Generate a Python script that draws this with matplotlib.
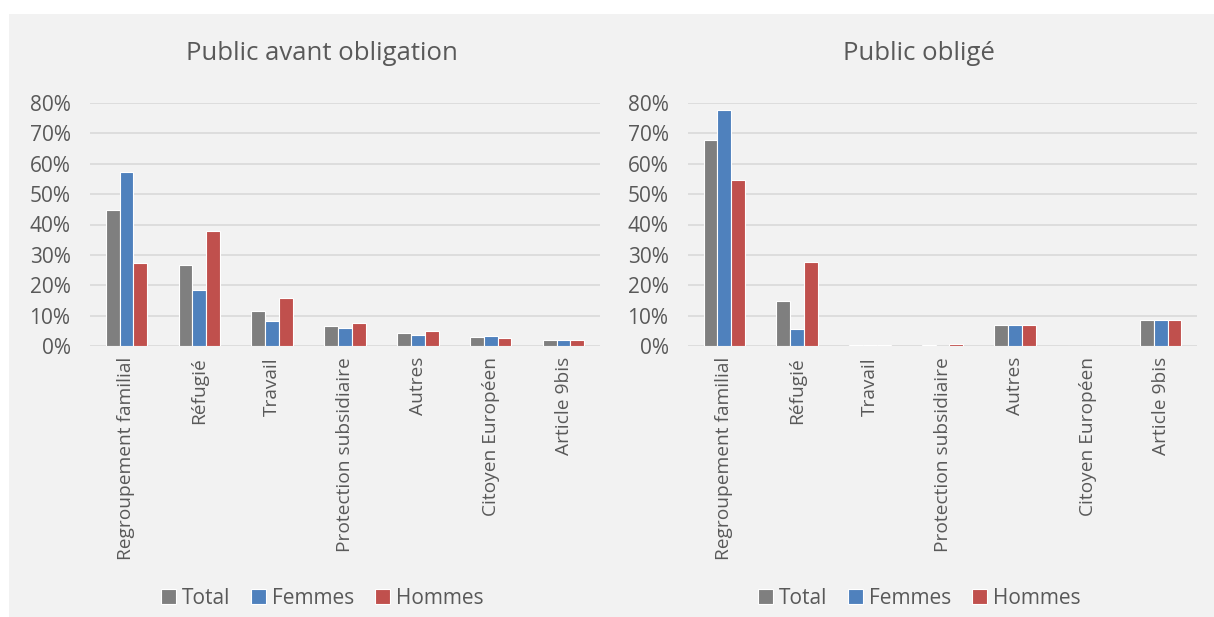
import numpy as np
import matplotlib.pyplot as plt
from matplotlib.patches import Rectangle
from matplotlib.ticker import PercentFormatter

plt.rcParams['font.family'] = ['Open Sans', 'DejaVu Sans']

categories = ["Regroupement familial", "Réfugié", "Travail", "Protection subsidiaire",
              "Autres", "Citoyen Européen", "Article 9bis"]
series = ["Total", "Femmes", "Hommes"]
colors = ["#7f7f7f", "#4f81bd", "#c0504d"]

# Public avant obligation (%)
avant_total = [44.8, 26.8, 11.5, 6.6, 4.2, 3.1, 1.9]
avant_femmes = [57.4, 18.6, 8.2, 5.8, 3.5, 3.3, 1.9]
avant_hommes = [27.3, 38.0, 15.9, 7.7, 4.9, 2.7, 2.1]

# Public obligé (%)
oblige_total = [67.9, 14.9, 0.3, 0.3, 6.9, 0.0, 8.4]
oblige_femmes = [77.6, 5.7, 0.2, 0.0, 6.9, 0.0, 8.7]
oblige_hommes = [54.7, 27.7, 0.3, 0.8, 6.9, 0.0, 8.4]

W, H = 1214, 617
fig = plt.figure(figsize=(W / 100, H / 100), dpi=100, facecolor="white")
fig.patches.append(Rectangle((9 / W, 0), 1 - 9 / W, 1 - 14 / H,
                             transform=fig.transFigure, facecolor="#f2f2f2",
                             edgecolor="none", zorder=-10))

text_col = "#595959"


def draw(ax_box, title, data, center_x):
    ax = fig.add_axes(ax_box)
    ax.set_facecolor("none")
    x = np.arange(len(categories))
    bw = 0.19
    for i, (vals, name, col) in enumerate(zip(data, series, colors)):
        ax.bar(x + (i - 1) * bw, np.array(vals) / 100, width=bw, color=col,
               edgecolor="white", linewidth=0.8, label=name, zorder=3)
    ax.set_xlim(-0.5, len(categories) - 0.5)
    ax.set_ylim(0, 0.8)
    ax.set_yticks(np.arange(0, 0.81, 0.1))
    ax.yaxis.set_major_formatter(PercentFormatter(1.0, decimals=0))
    ax.set_xticks(x)
    ax.set_xticklabels(categories, rotation=90)
    ax.grid(axis="y", color="#d9d9d9", linewidth=1.2, zorder=0)
    for s in ax.spines.values():
        s.set_visible(False)
    ax.tick_params(length=0, colors=text_col)
    ax.tick_params(axis="y", pad=14, labelsize=15)
    ax.tick_params(axis="x", pad=8, labelsize=13.8)
    fig.text(center_x, 1 - 53 / H, title, fontsize=18.5, color=text_col,
             ha="center", va="center")
    handles, labels = ax.get_legend_handles_labels()
    fig.legend(handles, labels, loc="center", bbox_to_anchor=(center_x, 1 - 598 / H),
               ncol=3, frameon=False, fontsize=15, labelcolor=text_col,
               handlelength=0.75, handleheight=0.75, handletextpad=0.25,
               columnspacing=1.0)
    return ax


draw([90 / W, 1 - 346 / H, 510 / W, 243 / H], "Public avant obligation",
     [avant_total, avant_femmes, avant_hommes], 322 / W)
draw([688 / W, 1 - 346 / H, 509 / W, 243 / H], "Public obligé",
     [oblige_total, oblige_femmes, oblige_hommes], 919 / W)

fig.savefig("out.png", dpi=100)
